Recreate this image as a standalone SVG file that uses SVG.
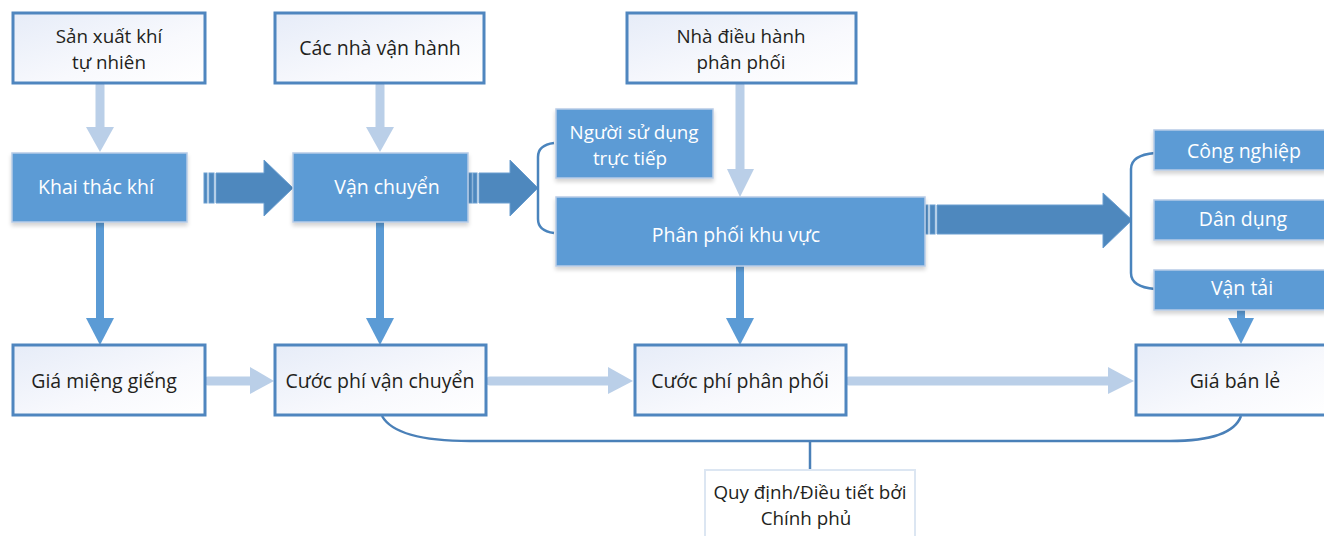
<svg xmlns="http://www.w3.org/2000/svg" width="1324" height="536" viewBox="0 0 1324 536">
  <style>
    .lt { fill: url(#paleFill); stroke: #4f86bf; stroke-width: 3; }
    .bl { fill: #5b9bd5; stroke: #b7cbe6; stroke-width: 1.5; filter: url(#soft); }
    .dk { font-family: "Open Sans", "Noto Sans", sans-serif; font-size: 19.5px; fill: #231f20; text-anchor: middle; }
    .wt { font-family: "Open Sans", "Noto Sans", sans-serif; font-size: 19.5px; fill: #ffffff; text-anchor: middle; }
    .two { font-size: 18.8px; }
    .pale { fill: #bacfe8; }
    .pale-line { stroke: #bacfe8; stroke-width: 9; stroke-linecap: round; fill: none; }
    .mid { fill: #5b9bd5; }
    .mid-line { stroke: #5b9bd5; stroke-width: 8; fill: none; }
    .bold { fill: #4e88be; stroke: #6a9ed0; stroke-width: 1; }
    .brace { fill: none; stroke: #4a84bd; stroke-width: 2.5; }
    .link { fill: none; stroke: #4a80b8; stroke-width: 2.5; }
  </style>
  <defs>
    <linearGradient id="paleFill" x1="0" y1="0" x2="1" y2="1">
      <stop offset="0" stop-color="#e6ecf8"/>
      <stop offset="0.6" stop-color="#f8f9fd"/>
      <stop offset="1" stop-color="#ffffff"/>
    </linearGradient>
    <filter id="soft" x="-10%" y="-10%" width="120%" height="130%">
      <feGaussianBlur in="SourceAlpha" stdDeviation="2"/>
      <feOffset dx="0" dy="3" result="b"/>
      <feComponentTransfer><feFuncA type="linear" slope="0.18"/></feComponentTransfer>
      <feMerge><feMergeNode/><feMergeNode in="SourceGraphic"/></feMerge>
    </filter>
  </defs>

  <!-- connectors -->
  <g id="connectors">
    <!-- pale input arrows -->
    <line class="pale-line" x1="100" y1="85" x2="100" y2="128"/>
    <polygon class="pale" points="86,127 114,127 100,152"/>
    <line class="pale-line" x1="380" y1="85" x2="380" y2="128"/>
    <polygon class="pale" points="366,127 394,127 380,152"/>
    <line class="pale-line" x1="740" y1="85" x2="740" y2="170"/>
    <polygon class="pale" points="727,169 754,169 740,197"/>

    <!-- pale price-chain arrows -->
    <line class="pale-line" x1="208" y1="381" x2="252" y2="381"/>
    <polygon class="pale" points="250,367 274,381 250,394"/>
    <line class="pale-line" x1="490" y1="381" x2="610" y2="381"/>
    <polygon class="pale" points="608,367 633,381 608,394"/>
    <line class="pale-line" x1="849" y1="381" x2="1110" y2="381"/>
    <polygon class="pale" points="1108,367 1134,381 1108,394"/>

    <!-- solid down arrows -->
    <line class="mid-line" x1="100" y1="222" x2="100" y2="320"/>
    <polygon class="mid" points="86,318 114,318 100,345"/>
    <line class="mid-line" x1="380" y1="222" x2="380" y2="320"/>
    <polygon class="mid" points="366,318 394,318 380,345"/>
    <line class="mid-line" x1="740" y1="266" x2="740" y2="320"/>
    <polygon class="mid" points="726,318 754,318 740,345"/>
    <line class="mid-line" x1="1241" y1="310" x2="1241" y2="320"/>
    <polygon class="mid" points="1228,318 1254,318 1241,344"/>

    <!-- broad striped flow arrows -->
    <rect class="bold" x="204" y="173" width="3" height="30"/>
    <rect class="bold" x="209" y="173" width="5" height="30"/>
    <path class="bold" d="M216,173 H264 V160 L293,188 L264,216 V203 H216 Z"/>

    <rect class="bold" x="468" y="173" width="4" height="30"/>
    <rect class="bold" x="473" y="173" width="4" height="30"/>
    <path class="bold" d="M479,173 H510 V160 L538,188 L510,216 V203 H479 Z"/>

    <rect class="bold" x="925" y="205" width="3" height="29"/>
    <rect class="bold" x="930" y="205" width="5" height="29"/>
    <path class="bold" d="M937,205 H1103 V193 L1132,220 L1103,248 V234 H937 Z"/>

    <!-- braces -->
    <path class="brace" d="M554,143 Q538,145 538,157 L538,219 Q538,231 554,233"/>
    <path class="brace" d="M1155,153 Q1131,155 1131,169 L1131,273 Q1131,287 1155,289"/>

    <!-- regulation link -->
    <path class="link" d="M382,416 Q396,441 470,441 H1170 Q1232,441 1241,416"/>
    <line class="link" x1="810" y1="441" x2="810" y2="470"/>
  </g>

  <!-- top inputs -->
  <g id="node-san-xuat">
    <rect class="lt" x="13" y="13" width="192" height="70"/>
    <text class="dk two" x="109" y="43">Sản xuất khí</text>
    <text class="dk two" x="109" y="69">tự nhiên</text>
  </g>
  <g id="node-nha-van-hanh">
    <rect class="lt" x="275" y="13" width="209" height="70"/>
    <text class="dk" x="380" y="55">Các nhà vận hành</text>
  </g>
  <g id="node-nha-dieu-hanh">
    <rect class="lt" x="627" y="13" width="229" height="70"/>
    <text class="dk two" x="741" y="43">Nhà điều hành</text>
    <text class="dk two" x="741" y="69">phân phối</text>
  </g>

  <!-- process chain -->
  <g id="node-khai-thac">
    <rect class="bl" x="12" y="153" width="175" height="69"/>
    <text class="wt" x="96" y="194">Khai thác khí</text>
  </g>
  <g id="node-van-chuyen">
    <rect class="bl" x="293" y="153" width="175" height="69"/>
    <text class="wt" x="387" y="194">Vận chuyển</text>
  </g>
  <g id="node-nguoi-su-dung">
    <rect class="bl" x="556" y="109" width="157" height="69"/>
    <text class="wt two" x="634" y="139">Người sử dụng</text>
    <text class="wt two" x="630" y="165">trực tiếp</text>
  </g>
  <g id="node-phan-phoi">
    <rect class="bl" x="556" y="197" width="369" height="69"/>
    <text class="wt" x="736" y="242">Phân phối khu vực</text>
  </g>
  <g id="node-cong-nghiep">
    <rect class="bl" x="1154" y="130" width="172" height="40"/>
    <text class="wt" x="1244" y="158">Công nghiệp</text>
  </g>
  <g id="node-dan-dung">
    <rect class="bl" x="1154" y="200" width="172" height="40"/>
    <text class="wt" x="1243" y="226">Dân dụng</text>
  </g>
  <g id="node-van-tai">
    <rect class="bl" x="1154" y="270" width="172" height="40"/>
    <text class="wt" x="1242" y="295">Vận tải</text>
  </g>

  <!-- price chain -->
  <g id="node-gia-mieng-gieng">
    <rect class="lt" x="13" y="345" width="192" height="70"/>
    <text class="dk" x="104" y="388">Giá miệng giếng</text>
  </g>
  <g id="node-cuoc-van-chuyen">
    <rect class="lt" x="275" y="345" width="211" height="70"/>
    <text class="dk" x="380" y="388">Cước phí vận chuyển</text>
  </g>
  <g id="node-cuoc-phan-phoi">
    <rect class="lt" x="635" y="345" width="211" height="70"/>
    <text class="dk" x="740" y="388">Cước phí phân phối</text>
  </g>
  <g id="node-gia-ban-le">
    <rect class="lt" x="1136" y="345" width="192" height="70"/>
    <text class="dk" x="1235" y="388">Giá bán lẻ</text>
  </g>

  <!-- regulator -->
  <g id="node-chinh-phu">
    <rect x="705" y="470" width="210" height="70" fill="#ffffff" stroke="#dce6f2" stroke-width="2"/>
    <text class="dk two" x="810" y="499">Quy định/Điều tiết bởi</text>
    <text class="dk two" x="806" y="525">Chính phủ</text>
  </g>
</svg>
